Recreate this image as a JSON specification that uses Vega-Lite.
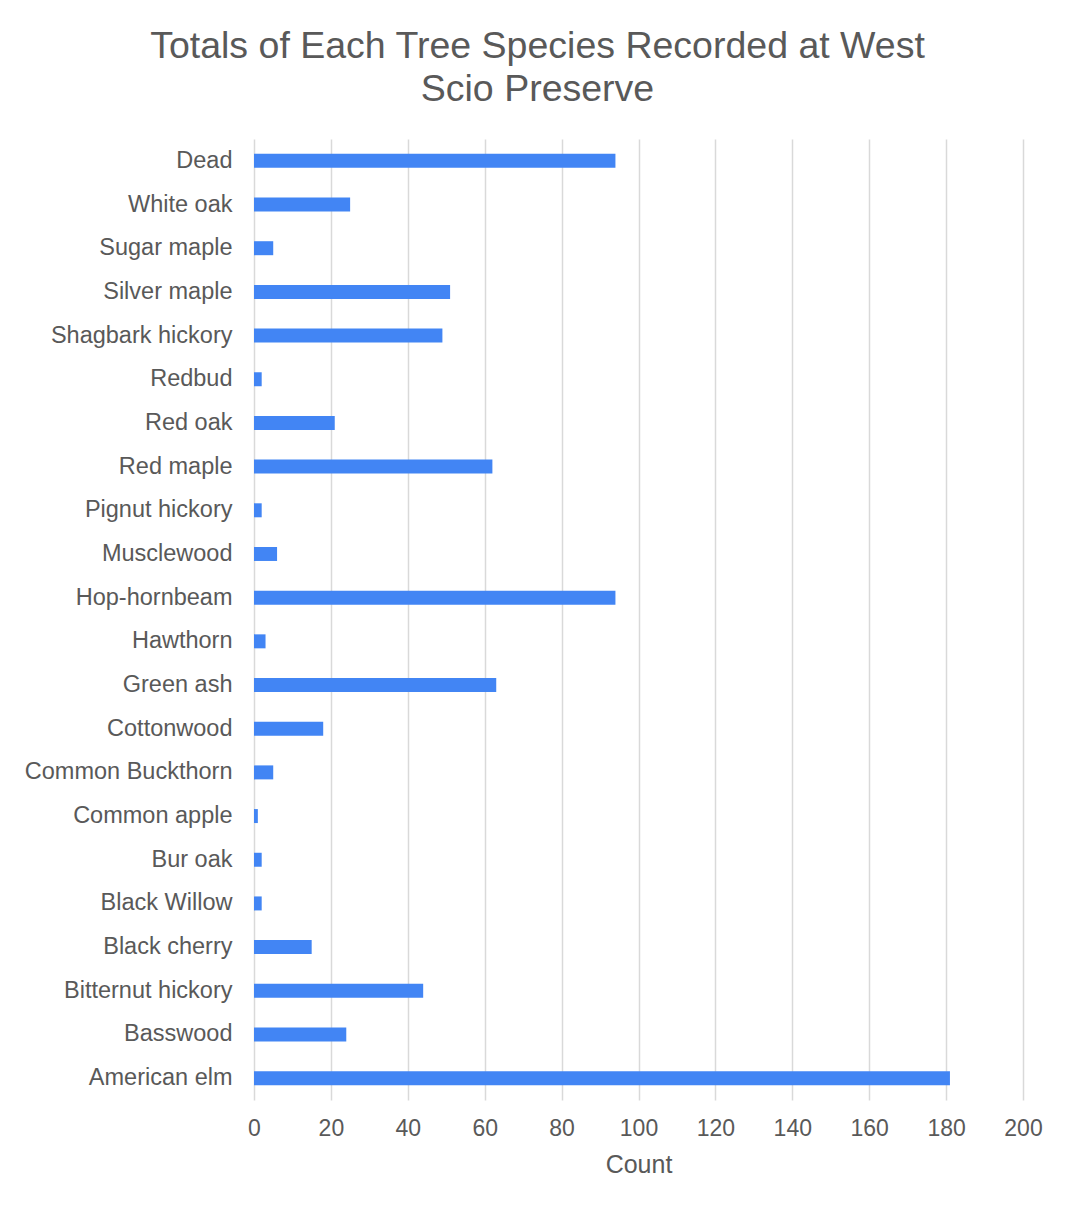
{
  "$schema": "https://vega.github.io/schema/vega-lite/v6.json",
  "autosize": {"type": "none"},
  "width": 769,
  "height": 961,
  "padding": {"left": 254, "top": 139, "right": 49, "bottom": 112},
  "background": "#ffffff",
  "config": {
    "font": "Liberation Sans",
    "view": {"stroke": null}
  },
  "title": {
    "text": ["Totals of Each Tree Species Recorded at West", "Scio Preserve"],
    "fontSize": 37.5,
    "fontWeight": "normal",
    "color": "#595959",
    "anchor": "middle",
    "dx": -101,
    "lineHeight": 43,
    "offset": 31
  },
  "data": {
    "values": [
      {"species": "Dead", "count": 94},
      {"species": "White oak", "count": 25},
      {"species": "Sugar maple", "count": 5},
      {"species": "Silver maple", "count": 51},
      {"species": "Shagbark hickory", "count": 49},
      {"species": "Redbud", "count": 2},
      {"species": "Red oak", "count": 21},
      {"species": "Red maple", "count": 62},
      {"species": "Pignut hickory", "count": 2},
      {"species": "Musclewood", "count": 6},
      {"species": "Hop-hornbeam", "count": 94},
      {"species": "Hawthorn", "count": 3},
      {"species": "Green ash", "count": 63},
      {"species": "Cottonwood", "count": 18},
      {"species": "Common Buckthorn", "count": 5},
      {"species": "Common apple", "count": 1},
      {"species": "Bur oak", "count": 2},
      {"species": "Black Willow", "count": 2},
      {"species": "Black cherry", "count": 15},
      {"species": "Bitternut hickory", "count": 44},
      {"species": "Basswood", "count": 24},
      {"species": "American elm", "count": 181}
    ]
  },
  "mark": {"type": "bar", "color": "#4285F4"},
  "encoding": {
    "y": {
      "field": "species",
      "type": "nominal",
      "sort": null,
      "scale": {"paddingInner": 0.68, "paddingOuter": 0.34},
      "axis": {
        "title": null,
        "domain": false,
        "ticks": false,
        "labelFontSize": 23.5,
        "labelColor": "#595959",
        "labelPadding": 22,
        "labelLimit": 300
      }
    },
    "x": {
      "field": "count",
      "type": "quantitative",
      "scale": {"domain": [0, 200], "nice": false},
      "axis": {
        "title": "Count",
        "titleFontSize": 25,
        "titleFontWeight": "normal",
        "titleColor": "#595959",
        "titlePadding": 12,
        "values": [0, 20, 40, 60, 80, 100, 120, 140, 160, 180, 200],
        "domain": false,
        "ticks": false,
        "labelFontSize": 23,
        "labelColor": "#595959",
        "labelPadding": 17,
        "labelFlush": false,
        "labelOverlap": false,
        "grid": true,
        "gridColor": "#d9d9d9",
        "gridWidth": 1.5
      }
    }
  }
}
